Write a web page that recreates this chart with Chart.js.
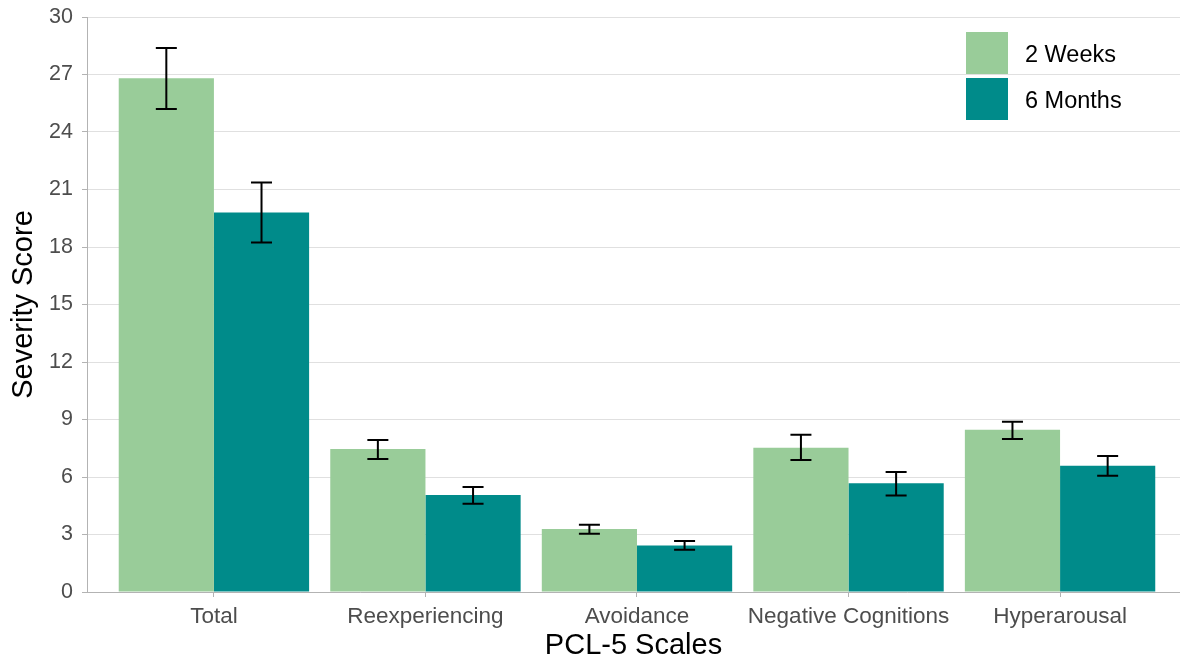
<!DOCTYPE html>
<html>
<head>
<meta charset="utf-8">
<script src="https://cdn.jsdelivr.net/npm/chart.js@4"></script>
<style>
html,body{margin:0;padding:0;background:#fff;}
#wrap{width:1180px;height:664px;position:relative;}
</style>
</head>
<body>
<div id="wrap"><canvas id="c"></canvas></div>
<script>
const categories = ["Total", "Reexperiencing", "Avoidance", "Negative Cognitions", "Hyperarousal"];
const seriesNames = ["2 Weeks", "6 Months"];
const weeks2 = [26.8, 7.46, 3.29, 7.53, 8.47];
const weeks2Low = [25.2, 6.94, 3.04, 6.89, 7.98];
const weeks2High = [28.38, 7.93, 3.51, 8.21, 8.88];
const months6 = [19.8, 5.06, 2.43, 5.67, 6.59];
const months6Low = [18.24, 4.61, 2.21, 5.04, 6.07];
const months6High = [21.37, 5.48, 2.66, 6.26, 7.09];
const yTicks = [0, 3, 6, 9, 12, 15, 18, 21, 24, 27, 30];

const colors = ["#99cc99", "#008b8a"];
const FONT = "'Liberation Sans', Arial, sans-serif";

const toXY = arr => arr.map((v, i) => ({x: i, y: v}));
const errLow = [weeks2Low, months6Low];
const errHigh = [weeks2High, months6High];

const errorBars = {
  id: 'errorBars',
  afterDatasetsDraw(chart) {
    const ctx = chart.ctx;
    const y = chart.scales.y;
    ctx.save();
    ctx.strokeStyle = '#000';
    ctx.lineWidth = 2;
    chart.data.datasets.forEach((ds, di) => {
      const meta = chart.getDatasetMeta(di);
      meta.data.forEach((bar, j) => {
        const x = bar.x;
        const lo = y.getPixelForValue(errLow[di][j]);
        const hi = y.getPixelForValue(errHigh[di][j]);
        const cap = 10.5;
        ctx.beginPath();
        ctx.moveTo(x, lo); ctx.lineTo(x, hi);
        ctx.moveTo(x - cap, lo); ctx.lineTo(x + cap, lo);
        ctx.moveTo(x - cap, hi); ctx.lineTo(x + cap, hi);
        ctx.stroke();
      });
    });
    ctx.restore();
  }
};

const insideLegend = {
  id: 'insideLegend',
  afterDraw(chart) {
    const ctx = chart.ctx;
    ctx.save();
    const bx = 966, by = 32, size = 42, gap = 4;
    chart.data.datasets.forEach((ds, i) => {
      const top = by + i * (size + gap);
      ctx.fillStyle = ds.backgroundColor;
      ctx.fillRect(bx, top, size, size);
      ctx.fillStyle = '#000';
      ctx.font = "23.5px " + FONT;
      ctx.textBaseline = 'middle';
      ctx.textAlign = 'left';
      ctx.fillText(ds.label, 1025, top + size / 2 + 3);
    });
    ctx.restore();
  }
};

new Chart(document.getElementById('c'), {
  type: 'bar',
  data: {
    datasets: [
      {label: seriesNames[0], data: toXY(weeks2), backgroundColor: colors[0], borderWidth: 0},
      {label: seriesNames[1], data: toXY(months6), backgroundColor: colors[1], borderWidth: 0}
    ]
  },
  options: {
    responsive: true,
    maintainAspectRatio: false,
    animation: false,
    layout: {padding: {top: 17, right: 0, left: 0, bottom: 0}},
    datasets: {bar: {barPercentage: 1, categoryPercentage: 0.9, grouped: true}},
    plugins: {legend: {display: false}, tooltip: {enabled: false}},
    scales: {
      x: {
        type: 'linear',
        min: -0.6,
        max: 4.567,
        offset: false,
        afterBuildTicks(scale) { scale.ticks = categories.map((_, i) => ({value: i})); },
        afterFit(scale) { scale.height = 72; scale.paddingLeft = 0; scale.paddingRight = 0; },
        ticks: {
          autoSkip: false,
          maxRotation: 0,
          padding: 6,
          color: '#4d4d4d',
          font: {family: FONT, size: 22.5},
          callback: v => categories[v]
        },
        grid: {display: true, drawOnChartArea: false, drawTicks: true, tickLength: 5, color: '#b3b3b3', offset: false},
        border: {display: true, color: '#b3b3b3', width: 1},
        title: {display: true, text: 'PCL-5 Scales', color: '#000', font: {family: FONT, size: 29}, padding: {top: 0, bottom: 1}}
      },
      y: {
        type: 'linear',
        min: 0,
        max: 30,
        afterBuildTicks(scale) { scale.ticks = yTicks.map(v => ({value: v})); },
        afterFit(scale) { scale.width = 87; scale.paddingTop = 0; scale.paddingBottom = 0; },
        ticks: {color: '#4d4d4d', font: {family: FONT, size: 21.5}, padding: 9},
        grid: {color: '#e0e0e0', tickColor: '#b3b3b3', tickLength: 5, lineWidth: 1},
        border: {display: true, color: '#b3b3b3', width: 1},
        title: {display: true, text: 'Severity Score', color: '#000', font: {family: FONT, size: 29}, padding: {top: 7, bottom: 0}}
      }
    }
  },
  plugins: [errorBars, insideLegend]
});
</script>
</body>
</html>
